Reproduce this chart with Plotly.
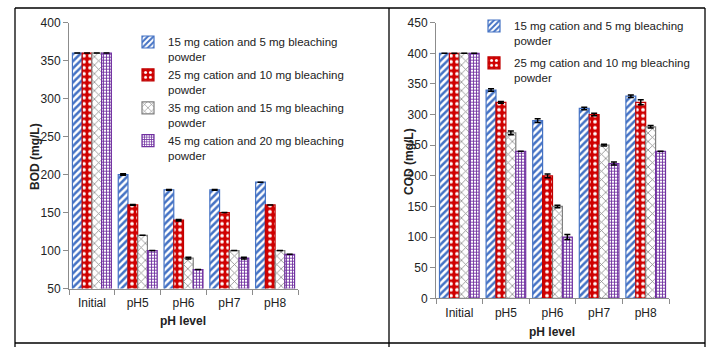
import plotly.graph_objects as go

categories = ["Initial", "pH5", "pH6", "pH7", "pH8"]
series_names = [
    "15 mg cation and 5 mg bleaching<br>powder",
    "25 mg cation and 10 mg bleaching<br>powder",
    "35 mg cation and 15 mg bleaching<br>powder",
    "45 mg cation and 20 mg bleaching<br>powder",
]

bod_s1 = [360, 200, 180, 180, 190]
bod_s2 = [360, 160, 140, 150, 160]
bod_s3 = [360, 120, 90, 100, 100]
bod_s4 = [360, 100, 75, 90, 95]
bod_err_s1 = [None, 1, 0.5, 0.5, None]
bod_err_s2 = [None, 0.5, 1, None, None]
bod_err_s3 = [None, None, 1, None, None]
bod_err_s4 = [None, None, None, 1, None]

cod_s1 = [400, 340, 290, 310, 330]
cod_s2 = [400, 320, 200, 300, 320]
cod_s3 = [400, 270, 150, 250, 280]
cod_s4 = [400, 240, 100, 220, 240]
cod_err_s1 = [None, 2, 3, 2, 2]
cod_err_s2 = [None, 1.5, 3, 2, 4]
cod_err_s3 = [None, 3, 2, 1.5, 2]
cod_err_s4 = [None, None, 4, 2.5, None]

styles = [
    dict(line="#4472C4", pattern=dict(shape="/", bgcolor="white", fgcolor="#4472C4", size=5, solidity=0.5)),
    dict(line="#C00000", pattern=dict(shape=".", bgcolor="#D00000", fgcolor="white", size=6, solidity=0.3)),
    dict(line="#7F7F7F", pattern=dict(shape="x", bgcolor="white", fgcolor="#8C8C8C", size=6, solidity=0.25)),
    dict(line="#7030A0", pattern=dict(shape="+", bgcolor="white", fgcolor="#7030A0", size=3, solidity=0.5)),
]

FONT = "Liberation Sans"
fig = go.Figure()

bod = [bod_s1, bod_s2, bod_s3, bod_s4]
bod_err = [bod_err_s1, bod_err_s2, bod_err_s3, bod_err_s4]
cod = [cod_s1, cod_s2, cod_s3, cod_s4]
cod_err = [cod_err_s1, cod_err_s2, cod_err_s3, cod_err_s4]

for i in range(4):
    st = styles[i]
    fig.add_trace(go.Bar(
        x=categories, y=bod[i], name=series_names[i],
        xaxis="x", yaxis="y", legend="legend",
        marker=dict(color=st["pattern"]["bgcolor"], line=dict(color=st["line"], width=1.2), pattern=st["pattern"]),
        error_y=dict(type="data", array=bod_err[i], color="black", thickness=1.5, width=3),
    ))
for i in range(4):
    st = styles[i]
    fig.add_trace(go.Bar(
        x=categories, y=cod[i], name=series_names[i],
        xaxis="x2", yaxis="y2", legend="legend2", showlegend=(i < 2),
        legendgroup="g%d" % i,
        marker=dict(color=st["pattern"]["bgcolor"], line=dict(color=st["line"], width=1.2), pattern=st["pattern"]),
        error_y=dict(type="data", array=cod_err[i], color="black", thickness=1.5, width=3),
    ))

axis_common = dict(showgrid=False, showline=True, linecolor="#8C8C8C", linewidth=1,
                   ticks="outside", tickcolor="#8C8C8C", ticklen=5, automargin=False,
                   tickfont=dict(family=FONT, size=12, color="#222"), zeroline=False)

fig.update_layout(
    template="none",
    width=724, height=347,
    margin=dict(l=0, r=0, t=0, b=0, pad=0, autoexpand=False),
    paper_bgcolor="white", plot_bgcolor="white",
    barmode="group", bargap=0.15, bargroupgap=0,
    font=dict(family=FONT, size=11, color="#222"),
    xaxis=dict(domain=[69/724, 298/724], anchor="y", tickson="boundaries", ticklabelstandoff=3, **axis_common),
    yaxis=dict(domain=[1-288.5/347, 1-22.7/347], anchor="x", range=[50, 400], dtick=50, **axis_common),
    xaxis2=dict(domain=[436/724, 669/724], anchor="y2", tickson="boundaries", ticklabelstandoff=3, **axis_common),
    yaxis2=dict(domain=[1-298.3/347, 1-22.7/347], anchor="x2", range=[0, 450], dtick=50, **axis_common),
    legend=dict(x=128/724, y=1-28/347, xanchor="left", yanchor="top", valign="top",
                bgcolor="rgba(0,0,0,0)", itemwidth=30,
                font=dict(family=FONT, size=11.5, color="#222"), tracegroupgap=0),
    legend2=dict(x=474/724, y=1-12/347, xanchor="left", yanchor="top", valign="top",
                 bgcolor="rgba(0,0,0,0)", itemwidth=30,
                 font=dict(family=FONT, size=11.5, color="#222"), tracegroupgap=4),
    showlegend=True,
)

# panel borders
border = dict(color="black", width=1.3)
shapes = [
    dict(type="line", xref="paper", yref="paper", x0=15/724, x1=705/724, y0=1-8/347, y1=1-8/347, line=border),
    dict(type="line", xref="paper", yref="paper", x0=15/724, x1=705/724, y0=1-343/347, y1=1-343/347, line=border),
    dict(type="line", xref="paper", yref="paper", x0=15/724, x1=15/724, y0=1-8/347, y1=0, line=border),
    dict(type="line", xref="paper", yref="paper", x0=389/724, x1=389/724, y0=1-8/347, y1=0, line=border),
    dict(type="line", xref="paper", yref="paper", x0=705/724, x1=705/724, y0=1-8/347, y1=0, line=border),
]
fig.update_layout(shapes=shapes)

ann_font = dict(family=FONT, size=12, color="#222")
ann_common = dict(xref="paper", yref="paper", showarrow=False, font=ann_font,
                  xanchor="center", yanchor="middle")
fig.add_annotation(text="<b>BOD (mg/L)</b>", x=35/724, y=1-157/347, textangle=-90, **ann_common)
fig.add_annotation(text="<b>COD (mg/L)</b>", x=409/724, y=1-162/347, textangle=-90, **ann_common)
fig.add_annotation(text="<b>pH level</b>", x=183/724, y=1-321/347, **ann_common)
fig.add_annotation(text="<b>pH level</b>", x=552/724, y=1-332/347, **ann_common)

fig.write_html("out.html")
